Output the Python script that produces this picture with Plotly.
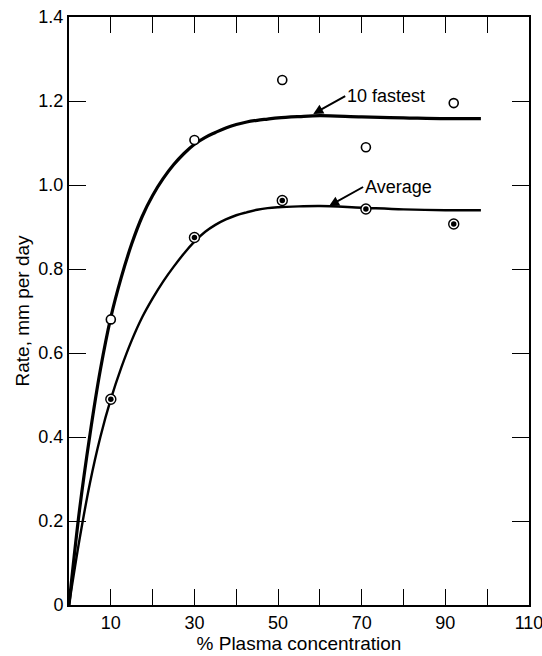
import plotly.graph_objects as go

# Measured points
conc_points = [10, 30, 51, 71, 92]
fastest_points = [0.68, 1.107, 1.25, 1.09, 1.195]
average_points = [0.49, 0.875, 0.963, 0.943, 0.907]

# Smooth fitted curves
curve_x = [0, 2.5, 5, 7.5, 10, 12.5, 15, 17.5, 20, 22.5, 25, 27.5, 30, 32.5, 35, 37.5, 40,
           42.5, 45, 47.5, 50, 55, 60, 70, 80, 90, 98.5]
fastest_curve = [0, 0.225, 0.405, 0.56, 0.685, 0.78, 0.86, 0.925, 0.975, 1.015, 1.048, 1.075,
                 1.097, 1.113, 1.125, 1.136, 1.144, 1.15, 1.154, 1.157, 1.16, 1.163, 1.165,
                 1.162, 1.16, 1.158, 1.158]
average_curve = [0, 0.155, 0.29, 0.40, 0.49, 0.565, 0.63, 0.685, 0.73, 0.77, 0.805, 0.837,
                 0.865, 0.888, 0.905, 0.918, 0.928, 0.935, 0.941, 0.945, 0.947, 0.949, 0.95,
                 0.946, 0.942, 0.94, 0.94]

x_ticks = [10, 20, 30, 40, 50, 60, 70, 80, 90, 100, 110]
x_ticklabels = ["10", "", "30", "", "50", "", "70", "", "90", "", "110"]
y_ticks = [0, 0.2, 0.4, 0.6, 0.8, 1.0, 1.2, 1.4]
y_ticklabels = ["0", "0.2", "0.4", "0.6", "0.8", "1.0", "1.2", "1.4"]

FONT = "Liberation Sans, Arial, sans-serif"

fig = go.Figure()
fig.add_trace(go.Scatter(x=curve_x, y=fastest_curve, mode="lines", line_shape="spline",
                         line=dict(color="black", width=3.2), hoverinfo="skip"))
fig.add_trace(go.Scatter(x=curve_x, y=average_curve, mode="lines", line_shape="spline",
                         line=dict(color="black", width=2.4), hoverinfo="skip"))
fig.add_trace(go.Scatter(x=conc_points, y=fastest_points, mode="markers",
                         marker=dict(symbol="circle", size=9, color="white",
                                     line=dict(color="black", width=1.6))))
fig.add_trace(go.Scatter(x=conc_points, y=average_points, mode="markers",
                         marker=dict(symbol="circle", size=10, color="white",
                                     line=dict(color="black", width=1.4))))
fig.add_trace(go.Scatter(x=conc_points, y=average_points, mode="markers",
                         marker=dict(symbol="circle", size=5.5, color="black", line=dict(width=0))))

fig.add_annotation(x=58.4, y=1.169, text="10 fastest", showarrow=True, arrowhead=2,
                   arrowsize=1, arrowwidth=2, arrowcolor="black", ax=32, ay=-18,
                   xanchor="left", yanchor="middle",
                   font=dict(family=FONT, size=18, color="black"))
fig.add_annotation(x=62.2, y=0.95, text="Average", showarrow=True, arrowhead=2,
                   arrowsize=1, arrowwidth=2, arrowcolor="black", ax=34, ay=-19,
                   xanchor="left", yanchor="middle",
                   font=dict(family=FONT, size=18, color="black"))

fig.update_layout(
    width=542, height=656,
    margin=dict(l=69, r=13, t=17, b=51, autoexpand=False),
    paper_bgcolor="white", plot_bgcolor="white",
    showlegend=False,
    font=dict(family=FONT, size=18, color="black"),
)
fig.update_xaxes(range=[0, 110], tickmode="array", tickvals=x_ticks, ticktext=x_ticklabels,
                 ticks="inside", ticklen=16, tickwidth=1.2, tickcolor="black",
                 showline=True, linecolor="black", linewidth=2, mirror="allticks",
                 showgrid=False, zeroline=False, automargin=False,
                 ticklabeloverflow="allow",
                 title=dict(text="% Plasma concentration", font=dict(size=19), standoff=2))
fig.update_yaxes(range=[0, 1.4], tickmode="array", tickvals=y_ticks, ticktext=y_ticklabels,
                 ticks="inside", ticklen=17, tickwidth=1.2, tickcolor="black",
                 showline=True, linecolor="black", linewidth=2, mirror="allticks",
                 showgrid=False, zeroline=False, automargin=False,
                 ticklabeloverflow="allow",
                 title=dict(text="Rate, mm per day", font=dict(size=19), standoff=4))

fig.write_html("out.html", config={"displayModeBar": False},
               post_script="document.body.style.margin='0';")
